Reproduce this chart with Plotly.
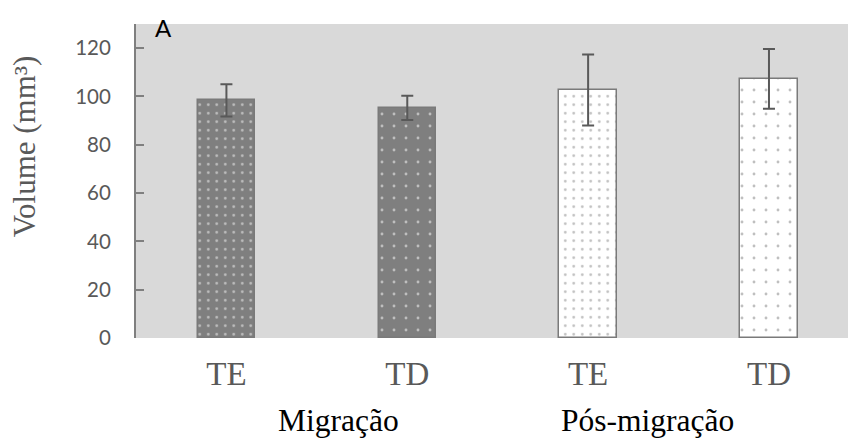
import plotly.graph_objects as go

# ---- data ----
groups = ["Migração", "Pós-migração"]
categories = ["TE", "TD", "TE", "TD"]
values = [98.4, 95.3, 102.7, 107.3]
errors = [6.7, 5.0, 14.7, 12.4]
y_ticks = [0, 20, 40, 60, 80, 100, 120]

x_pos = list(range(len(categories)))

fill_colors = ["#7f7f7f", "#7f7f7f", "#ffffff", "#ffffff"]
dot_colors = ["#ffffff", "#ffffff", "#808080", "#808080"]
dot_sizes = [8.5, 12, 8.5, 12]
dot_solid = [0.08, 0.045, 0.08, 0.045]

SERIF = "Liberation Serif"
SANS = "Lato"

fig = go.Figure()
for i in range(len(categories)):
    fig.add_trace(go.Bar(
        x=[x_pos[i]], y=[values[i]],
        width=0.318,
        marker=dict(
            color=fill_colors[i],
            line=dict(color="#7a7a7a", width=1.5),
            pattern=dict(shape=".", fgcolor=dot_colors[i], bgcolor=fill_colors[i],
                         size=dot_sizes[i], solidity=dot_solid[i], fillmode="overlay"),
        ),
        error_y=dict(type="data", array=[errors[i]], visible=True,
                     color="#595959", thickness=2, width=6),
        showlegend=False,
        hoverinfo="skip",
    ))

fig.update_layout(
    width=848, height=440,
    margin=dict(l=136, r=0, t=24, b=102),
    paper_bgcolor="white",
    plot_bgcolor="#d9d9d9",
    bargap=0,
    xaxis=dict(
        range=[-0.5, 3.437],
        tickmode="array", tickvals=x_pos, ticktext=categories,
        tickfont=dict(family=SERIF, size=33, color="#595959"),
        showgrid=False, zeroline=False, showline=False,
        ticks="", ticklabelstandoff=13,
    ),
    yaxis=dict(
        range=[0, 130],
        tickmode="array", tickvals=y_ticks,
        tickfont=dict(family=SANS, size=20.5, color="#595959"),
        showgrid=False, zeroline=False,
        showline=True, linecolor="#7f7f7f", linewidth=2,
        ticks="inside", ticklen=8, tickcolor="#7f7f7f", tickwidth=1.5,
        ticklabelstandoff=19,
    ),
)

# group labels
fig.add_annotation(x=0.617, y=0.0, xref="x", yref="paper", text=groups[0],
                   showarrow=False, xanchor="center", yanchor="bottom",
                   font=dict(family=SERIF, size=31.5, color="black"))
fig.add_annotation(x=2.33, y=0.0, xref="x", yref="paper", text=groups[1],
                   showarrow=False, xanchor="center", yanchor="bottom",
                   font=dict(family=SERIF, size=31.5, color="black"))

# y-axis title
fig.add_annotation(x=-0.157, y=0.611, xref="paper", yref="paper",
                   text="Volume (mm³)", textangle=-90, showarrow=False,
                   xanchor="center", yanchor="middle",
                   font=dict(family=SERIF, size=31, color="#595959"))

# panel letter
fig.add_annotation(x=0.0386, y=0.99, xref="paper", yref="paper", text="A",
                   showarrow=False, xanchor="center", yanchor="middle",
                   font=dict(family=SANS, size=24, color="black"))

fig.update_annotations(selector=dict(text=groups[0]), yref="paper", y=-0.325, yshift=0)
fig.update_annotations(selector=dict(text=groups[1]), yref="paper", y=-0.325, yshift=0)

fig.write_html("out.html")
